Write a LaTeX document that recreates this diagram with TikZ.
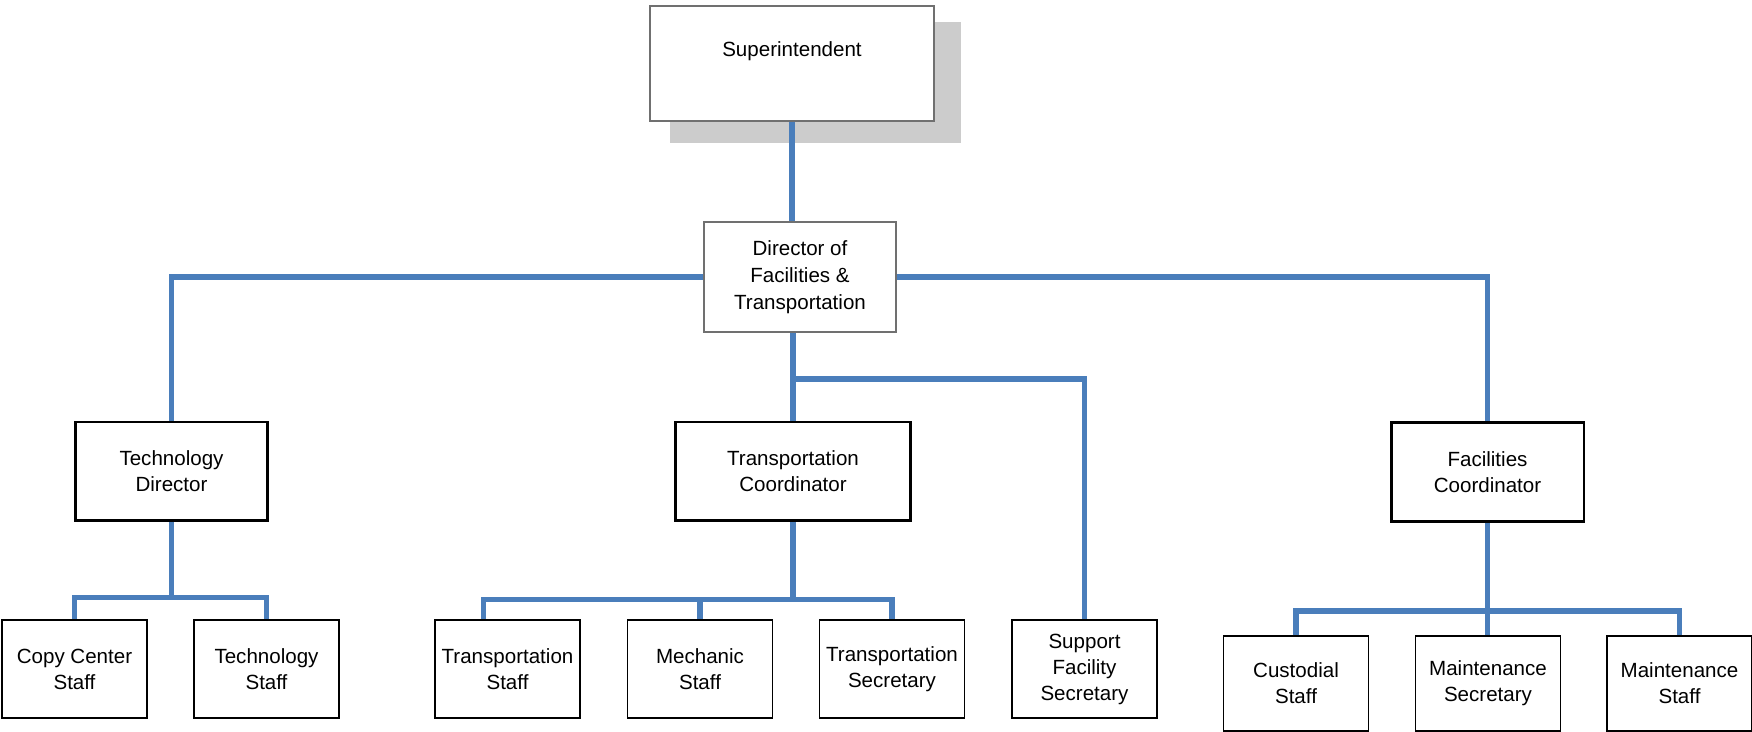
\documentclass[tikz,border=0pt]{standalone}
\usepackage{fontspec}
\setmainfont{Liberation Sans}
\definecolor{linkblue}{RGB}{74,126,187}
\definecolor{framegray}{RGB}{112,112,112}
\tikzset{
    boxtext/.style={font=\fontsize{11.7}{14.8}\selectfont},
    box/.style={draw, rectangle, fill=white, align=center, inner sep=1pt, boxtext},
    topbox/.style={box, draw=framegray, line width=0.8pt},
    midbox/.style={box, line width=1.7pt, minimum width=3.86cm, minimum height=1.98cm},
    staffbox/.style={box, line width=1.1pt, minimum width=2.9cm, minimum height=1.96cm},
    link/.style={linkblue, line width=3.1pt}
}
\begin{document}
\begin{tikzpicture}[x=0.02cm, y=-0.02cm]
    \useasboundingbox (0,0) rectangle (1752,732);
    % top
    \fill[gray!40] (670,22) rectangle (961,143);
    \node[topbox, minimum width=5.68cm, minimum height=2.3cm] (sup) at (792,63.5) {};
    \node[boxtext] (suptext) at (792,51) {Superintendent};
    \node[topbox, minimum width=3.84cm, minimum height=2.2cm, font=\fontsize{11.7}{15.5}\selectfont] (dir) at (800,277) {Director of\\Facilities \&\\Transportation};
    % middle row
    \node[midbox] (techdir) at (171.5,471.5) {Technology\\Director};
    \node[midbox, minimum width=4.72cm] (transco) at (793,471.5) {Transportation\\Coordinator};
    \node[midbox] (facco) at (1487.5,472) {Facilities\\Coordinator};
    % bottom row
    \node[staffbox] (copy) at (74.5,669) {Copy Center\\Staff};
    \node[staffbox] (techstaff) at (266.5,669) {Technology\\Staff};
    \node[staffbox] (transstaff) at (507.5,669) {Transportation\\Staff};
    \node[staffbox] (mech) at (700,669) {Mechanic\\Staff};
    \node[staffbox] (transsec) at (892,669) {Transportation\\Secretary};
    \node[staffbox] (support) at (1084.5,669) {Support\\Facility\\Secretary};
    \node[staffbox, minimum height=1.9cm] (cust) at (1296,683.5) {Custodial\\Staff};
    \node[staffbox, minimum height=1.9cm] (maintsec) at (1488,683.5) {Maintenance\\Secretary};
    \node[staffbox, minimum height=1.9cm] (maintstaff) at (1679.5,683.5) {Maintenance\\Staff};
    % links
    \draw[link] (sup.south) -- (sup.south |- dir.north);
    \draw[link] (dir.west) -| (techdir.north);
    \draw[link] (dir.east) -| (facco.north);
    \draw[link] (transco.north |- dir.south) -- (transco.north);
    \coordinate (sb) at (793,379);
    \draw[link] (sb) -| (support.north);
    \draw[link] (techdir.south) -- ++(0,75) coordinate (tj);
    \draw[link] (copy.north) |- (tj) -| (techstaff.north);
    \draw[link] (transco.south) -- ++(0,77) coordinate (cj);
    \coordinate (ts) at ([xshift=-0.48cm]transstaff.north);
    \draw[link] (ts) |- (cj) -| (transsec.north);
    \draw[link] (mech.north) -- (mech.north |- cj);
    \draw[link] (facco.south) -- (facco.south |- maintsec.north);
    \draw[link] (cust.north) -- ++(0,-24) -| (maintstaff.north);
\end{tikzpicture}
\end{document}
